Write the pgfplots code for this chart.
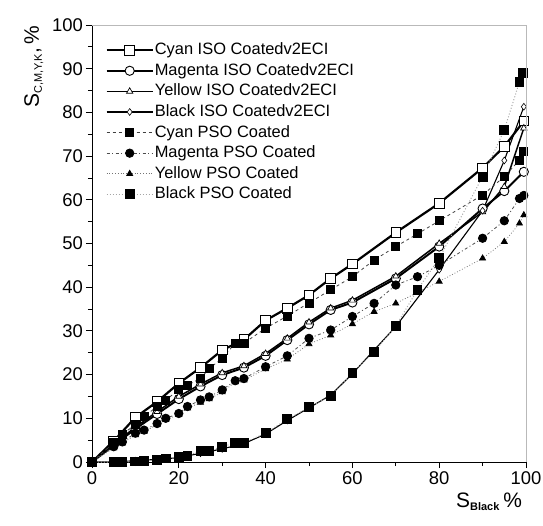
\documentclass[border=0pt]{standalone}
\usepackage{fontspec}
\setmainfont{Liberation Sans}
\usepackage{pgfplots}
\pgfplotsset{compat=1.18}
\begin{document}
\begin{tikzpicture}
\useasboundingbox (-92bp,-64bp) rectangle (451bp,462bp);
\begin{axis}[
  scale only axis,
  width=434bp, height=437bp,
  xmin=0, xmax=100, ymin=0, ymax=100,
  axis x line*=bottom, axis y line*=left,
  axis line style={line width=0.9bp, black},
  xtick={0,20,...,100}, minor xtick={10,30,...,90},
  ytick={0,10,...,100}, minor ytick={5,15,...,95},
  tick align=outside,
  major tick length=6bp, minor tick length=4bp,
  tick style={line width=0.8bp, black},
  /pgf/number format/assume math mode=true,
  tick label style={font=\fontsize{18.5}{20}\selectfont},
  xticklabel style={inner sep=1bp, yshift=-2bp},
  yticklabel style={inner sep=1bp, xshift=-2bp},
  xlabel={\fontsize{21}{22}\selectfont S\textsubscript{\fontsize{11}{12}\selectfont\bfseries Black}\,\%},
  x label style={at={(axis description cs:0.915,0)}, anchor=north, yshift=-31bp, inner sep=0pt},
  ylabel={\fontsize{21}{22}\selectfont S\textsubscript{\fontsize{11}{12}\selectfont C,M,Y,K},\,\%},
  y label style={at={(axis description cs:-0.134,0.905)}, anchor=center, inner sep=0pt},
  legend cell align=left,
  legend style={at={(axis description cs:0.024,0.968)}, anchor=north west, draw=none, fill=none,
    font=\fontsize{16.5}{18}\selectfont, row sep=2.6bp,
    nodes={inner sep=1bp, text height=12.5bp, text depth=3.5bp}},
  legend image code/.code={\draw[mark repeat=2,mark phase=2,#1] plot coordinates {(0bp,0bp) (23bp,0bp) (46bp,0bp)};},
  after end axis/.code={\draw[gray!55, line width=0.9bp] (rel axis cs:0,1) -- (rel axis cs:1,1) -- (rel axis cs:1,0);},
]
% Cyan ISO
\addplot[black, line width=2.2bp, mark=square*, mark options={fill=white, line width=0.9bp, solid}, mark size=4.8bp] coordinates {
(0,0)(5,4.8)(10,10.2)(15,13.8)(20,18)(25,21.6)(30,25.6)(35,28)(40,32.4)(45,35.2)(50,38.2)(55,42)(60,45.3)(70,52.5)(80,59.2)(90,67.3)(95,72.2)(99.5,78)};
\addlegendentry{Cyan ISO Coatedv2ECI}
% Magenta ISO
\addplot[black, line width=2.0bp, mark=*, mark options={fill=white, line width=0.9bp, solid}, mark size=4.6bp] coordinates {
(0,0)(5,3.8)(10,7.6)(15,11)(20,14.4)(25,17.3)(30,19.9)(35,21.6)(40,24.3)(45,27.9)(50,31.5)(55,34.8)(60,36.5)(70,42)(80,49.3)(90,58)(95,62)(99.5,66.4)};
\addlegendentry{Magenta ISO Coatedv2ECI}
% Yellow ISO
\addplot[black, line width=1.5bp, mark=triangle*, mark options={fill=white, line width=0.7bp, solid}, mark size=3.6bp] coordinates {
(0,0)(5,4)(10,8)(15,11.5)(20,15)(25,17.8)(30,20.4)(35,22)(40,24.8)(45,28.3)(50,32)(55,35.2)(60,37)(70,42.5)(80,50)(90,57.2)(95,63)(99.5,76.4)};
\addlegendentry{Yellow ISO Coatedv2ECI}
% Black ISO
\addplot[black, line width=1.1bp, mark=diamond*, mark options={fill=white, line width=0.6bp, solid}, mark size=3.4bp] coordinates {
(0,0)(5,0)(10,0.3)(15,0.6)(20,1)(25,2)(30,3)(35,4.2)(40,6.4)(45,9.5)(50,12.4)(55,15.3)(60,20.2)(70,31)(80,44)(90,57.5)(95,69)(99.5,81.3)};
\addlegendentry{Black ISO Coatedv2ECI}
% Cyan PSO
\addplot[black!75, line width=0.8bp, dashed, mark=square*, mark options={fill=black, draw=black, solid}, mark size=4bp] coordinates {
(0,0)(5,4.4)(7,6.4)(10,8.5)(12,10.4)(15,12.7)(17,14.2)(20,16.5)(22,17.6)(25,19.1)(27,21.4)(30,23.7)(33,27.2)(35,27.2)(40,30.6)(45,33.4)(50,36.4)(55,39.4)(60,42.4)(65,46.2)(70,49.3)(75,52.2)(80,55.2)(90,61.1)(95,65.3)(98.5,69.1)(99.5,71)};
\addlegendentry{Cyan PSO Coated}
% Magenta PSO
\addplot[black!70, line width=0.8bp, dash pattern=on 3bp off 2.5bp on 1bp off 2.5bp, mark=*, mark options={fill=black, draw=black, solid}, mark size=4.2bp] coordinates {
(0,0)(5,3.5)(7,4.6)(10,6.6)(12,7.3)(15,8.8)(17,10)(20,11.1)(22,12.7)(25,14.2)(27,14.9)(30,16.5)(33,18.6)(35,19.1)(40,21.8)(45,24.3)(50,28.3)(55,30.2)(60,33.3)(65,36.3)(70,40.5)(75,42.4)(80,45)(90,51.2)(95,55.2)(98.5,60.3)(99.5,61)};
\addlegendentry{Magenta PSO Coated}
% Yellow PSO
\addplot[black!55, line width=0.8bp, dotted, mark=triangle*, mark options={fill=black, draw=black, solid}, mark size=3.4bp] coordinates {
(0,0)(5,3.2)(7,4.3)(10,6.2)(12,7)(15,8.5)(17,9.7)(20,10.8)(22,12.3)(25,13.6)(27,14.4)(30,16)(33,18.3)(35,18.7)(40,21.3)(45,23.5)(50,27)(55,29)(60,31.6)(65,34.4)(70,36.3)(75,38.8)(80,41.3)(90,46.6)(95,50.4)(98.5,54.6)(99.5,56.5)};
\addlegendentry{Yellow PSO Coated}
% Black PSO
\addplot[black!35, line width=1bp, dotted, mark=square*, mark options={fill=black, draw=black, solid}, mark size=4.4bp] coordinates {
(0,0)(5,0)(7,0)(10,0.1)(12,0.2)(15,0.5)(17,0.8)(20,1.2)(22,1.4)(25,2.6)(27,2.6)(30,3.5)(33,4.4)(35,4.4)(40,6.6)(45,9.8)(50,12.5)(55,15.1)(60,20.4)(65,25.2)(70,31.1)(75,39.4)(80,46.6)(90,65.3)(95,76)(98.5,87)(99.3,89)};
\addlegendentry{Black PSO Coated}
\end{axis}
\end{tikzpicture}
\end{document}
